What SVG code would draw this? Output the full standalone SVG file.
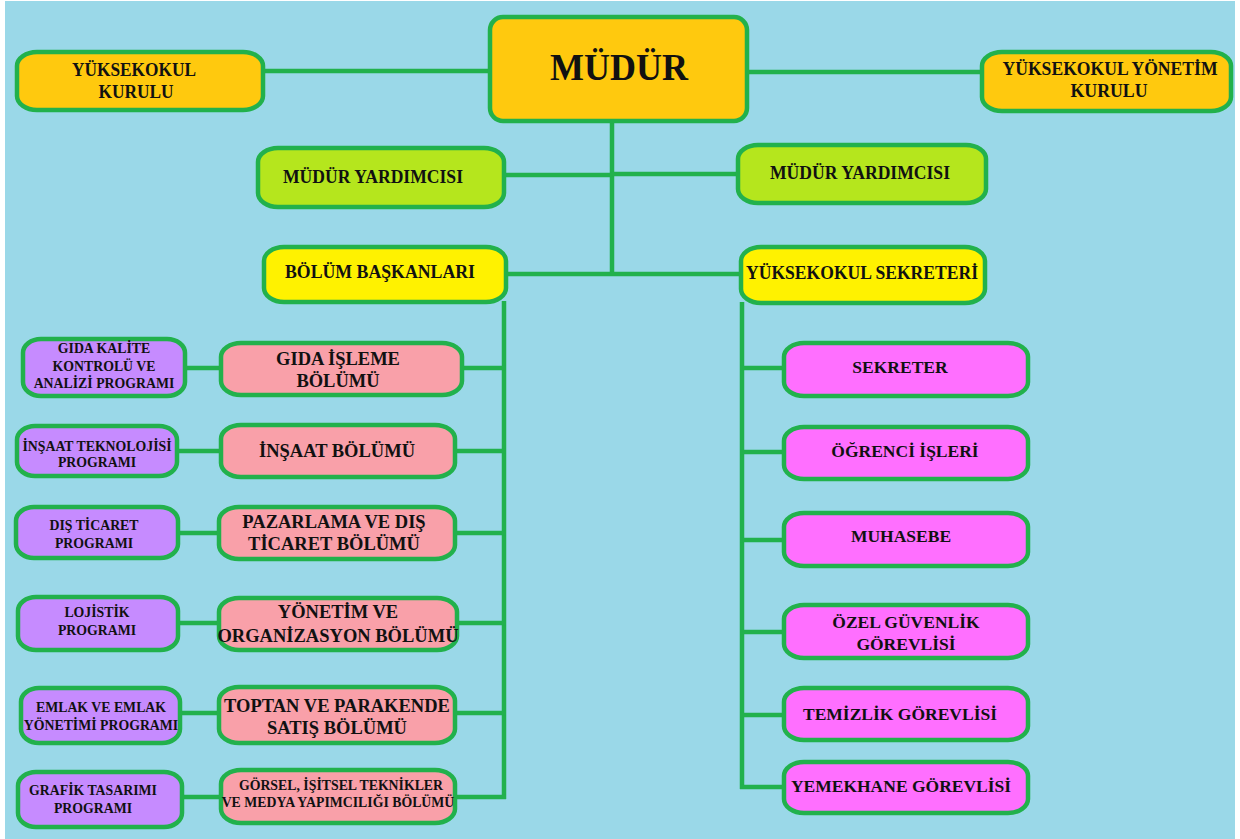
<svg xmlns="http://www.w3.org/2000/svg" width="1240" height="839" viewBox="0 0 1240 839">
<style>
.n{stroke:#22B14C;stroke-width:4.5}
.gold{fill:#FFC90E}.lime{fill:#B5E61D}.yel{fill:#FFF200}.pink{fill:#F9A0A9}.pur{fill:#C68BFF}.mag{fill:#FF6FFF}
text{font-family:"Liberation Serif","Times New Roman",serif;font-weight:bold;fill:#111;text-anchor:middle}
.c line{stroke:#22B14C;stroke-width:4.5}
.t19{font-size:19px}.t17{font-size:17.5px}.t18{font-size:18.5px}.t14{font-size:13.8px}
</style>
<rect x="0" y="0" width="1240" height="839" fill="#FFFFFF"/>
<rect x="5" y="1" width="1230" height="838" fill="#9AD8E8"/>
<g class="c">
<line x1="263" y1="71" x2="490" y2="71"/>
<line x1="747" y1="72" x2="982" y2="72"/>
<line x1="612" y1="121" x2="612" y2="276"/>
<line x1="503" y1="175" x2="612" y2="175"/>
<line x1="612" y1="174" x2="738" y2="174"/>
<line x1="505" y1="274" x2="741" y2="274"/>
<line x1="504" y1="301" x2="504" y2="799"/>
<line x1="461" y1="368" x2="506" y2="368"/>
<line x1="454" y1="451" x2="506" y2="451"/>
<line x1="454" y1="533" x2="506" y2="533"/>
<line x1="456" y1="623" x2="506" y2="623"/>
<line x1="454" y1="713" x2="506" y2="713"/>
<line x1="454" y1="797" x2="506" y2="797"/>
<line x1="184" y1="368" x2="221" y2="368"/>
<line x1="176" y1="451" x2="221" y2="451"/>
<line x1="177" y1="533" x2="219" y2="533"/>
<line x1="177" y1="623" x2="219" y2="623"/>
<line x1="179" y1="713" x2="219" y2="713"/>
<line x1="181" y1="797" x2="221" y2="797"/>
<line x1="742" y1="302" x2="742" y2="789"/>
<line x1="740" y1="368" x2="785" y2="368"/>
<line x1="740" y1="452" x2="785" y2="452"/>
<line x1="740" y1="540" x2="785" y2="540"/>
<line x1="740" y1="632" x2="785" y2="632"/>
<line x1="740" y1="715" x2="785" y2="715"/>
<line x1="740" y1="787" x2="785" y2="787"/>
</g>
<g id="mudur"><rect class="n gold" x="490" y="17" width="257" height="104" rx="13"/><text x="619" y="80" style="font-size:38px" textLength="138" lengthAdjust="spacingAndGlyphs">MÜDÜR</text></g>
<g id="yk-kurulu"><rect class="n gold" x="17" y="52" width="246" height="58" rx="20" ry="14"/><text class="t19" x="134" y="76" textLength="124" lengthAdjust="spacingAndGlyphs">YÜKSEKOKUL</text><text class="t19" x="136" y="98" textLength="75" lengthAdjust="spacingAndGlyphs">KURULU</text></g>
<g id="yk-yonetim"><rect class="n gold" x="982" y="52" width="249" height="59" rx="20" ry="14"/><text class="t19" x="1110" y="75" textLength="215" lengthAdjust="spacingAndGlyphs">YÜKSEKOKUL YÖNETİM</text><text class="t19" x="1109" y="97" textLength="77" lengthAdjust="spacingAndGlyphs">KURULU</text></g>
<g id="mudur-yard-1"><rect class="n lime" x="258" y="148" width="246" height="59" rx="20" ry="14"/><text class="t19" x="373" y="183" textLength="180" lengthAdjust="spacingAndGlyphs">MÜDÜR YARDIMCISI</text></g>
<g id="mudur-yard-2"><rect class="n lime" x="738" y="145" width="248" height="58" rx="20" ry="14"/><text class="t19" x="860" y="179" textLength="180" lengthAdjust="spacingAndGlyphs">MÜDÜR YARDIMCISI</text></g>
<g id="bolum-baskanlari"><rect class="n yel" x="264" y="247" width="242" height="55" rx="20" ry="14"/><text class="t19" x="380" y="278" textLength="190" lengthAdjust="spacingAndGlyphs">BÖLÜM BAŞKANLARI</text></g>
<g id="yk-sekreteri"><rect class="n yel" x="741" y="247" width="244" height="56" rx="20" ry="14"/><text class="t19" x="862" y="279" textLength="232" lengthAdjust="spacingAndGlyphs">YÜKSEKOKUL SEKRETERİ</text></g>
<g id="gida-isleme"><rect class="n pink" x="221" y="343" width="241" height="52" rx="20" ry="14"/><text class="t18" x="338" y="365">GIDA İŞLEME</text><text class="t18" x="338" y="387">BÖLÜMÜ</text></g>
<g id="insaat"><rect class="n pink" x="221" y="425" width="234" height="52" rx="20" ry="14"/><text class="t18" x="337" y="457">İNŞAAT BÖLÜMÜ</text></g>
<g id="pazarlama"><rect class="n pink" x="219" y="507" width="236" height="52" rx="20" ry="14"/><text class="t18" x="334" y="528">PAZARLAMA VE DIŞ</text><text class="t18" x="334" y="550">TİCARET BÖLÜMÜ</text></g>
<g id="yonetim"><rect class="n pink" x="219" y="598" width="238" height="52" rx="20" ry="14"/><text class="t18" x="338" y="618">YÖNETİM VE</text><text class="t18" x="338" y="642">ORGANİZASYON BÖLÜMÜ</text></g>
<g id="toptan"><rect class="n pink" x="219" y="687" width="236" height="56" rx="20" ry="14"/><text class="t18" x="337" y="712">TOPTAN VE PARAKENDE</text><text class="t18" x="337" y="734">SATIŞ BÖLÜMÜ</text></g>
<g id="gorsel"><rect class="n pink" x="221" y="770" width="234" height="53" rx="20" ry="14"/><text class="t14" x="341" y="790">GÖRSEL, İŞİTSEL TEKNİKLER</text><text class="t14" x="338" y="807">VE MEDYA YAPIMCILIĞI BÖLÜMÜ</text></g>
<g id="gida-kalite"><rect class="n pur" x="23" y="339" width="162" height="57" rx="18" ry="14"/><text class="t14" x="104" y="353">GIDA KALİTE</text><text class="t14" x="104" y="371">KONTROLÜ VE</text><text class="t14" x="104" y="388">ANALİZİ PROGRAMI</text></g>
<g id="insaat-tek"><rect class="n pur" x="17" y="426" width="160" height="50" rx="18" ry="14"/><text class="t14" x="97" y="451">İNŞAAT TEKNOLOJİSİ</text><text class="t14" x="97" y="467">PROGRAMI</text></g>
<g id="dis-ticaret"><rect class="n pur" x="16" y="507" width="162" height="51" rx="18" ry="14"/><text class="t14" x="94" y="530">DIŞ TİCARET</text><text class="t14" x="94" y="548">PROGRAMI</text></g>
<g id="lojistik"><rect class="n pur" x="18" y="597" width="160" height="53" rx="18" ry="14"/><text class="t14" x="97" y="617">LOJİSTİK</text><text class="t14" x="97" y="635">PROGRAMI</text></g>
<g id="emlak"><rect class="n pur" x="21" y="688" width="159" height="55" rx="18" ry="14"/><text class="t14" x="101" y="712">EMLAK VE EMLAK</text><text class="t14" x="101" y="730">YÖNETİMİ PROGRAMI</text></g>
<g id="grafik"><rect class="n pur" x="18" y="772" width="164" height="55" rx="18" ry="14"/><text class="t14" x="93" y="795">GRAFİK TASARIMI</text><text class="t14" x="93" y="813">PROGRAMI</text></g>
<g id="sekreter"><rect class="n mag" x="784" y="343" width="244" height="53" rx="20" ry="14"/><text class="t17" x="900" y="373">SEKRETER</text></g>
<g id="ogrenci"><rect class="n mag" x="784" y="427" width="244" height="52" rx="20" ry="14"/><text class="t17" x="905" y="457">ÖĞRENCİ İŞLERİ</text></g>
<g id="muhasebe"><rect class="n mag" x="784" y="513" width="244" height="53" rx="20" ry="14"/><text class="t17" x="901" y="542">MUHASEBE</text></g>
<g id="guvenlik"><rect class="n mag" x="784" y="605" width="244" height="53" rx="20" ry="14"/><text class="t17" x="906" y="628">ÖZEL GÜVENLİK</text><text class="t17" x="906" y="650">GÖREVLİSİ</text></g>
<g id="temizlik"><rect class="n mag" x="784" y="688" width="244" height="52" rx="20" ry="14"/><text class="t17" x="900" y="720">TEMİZLİK GÖREVLİSİ</text></g>
<g id="yemekhane"><rect class="n mag" x="784" y="762" width="244" height="51" rx="20" ry="14"/><text class="t17" x="901" y="792">YEMEKHANE GÖREVLİSİ</text></g>
</svg>
